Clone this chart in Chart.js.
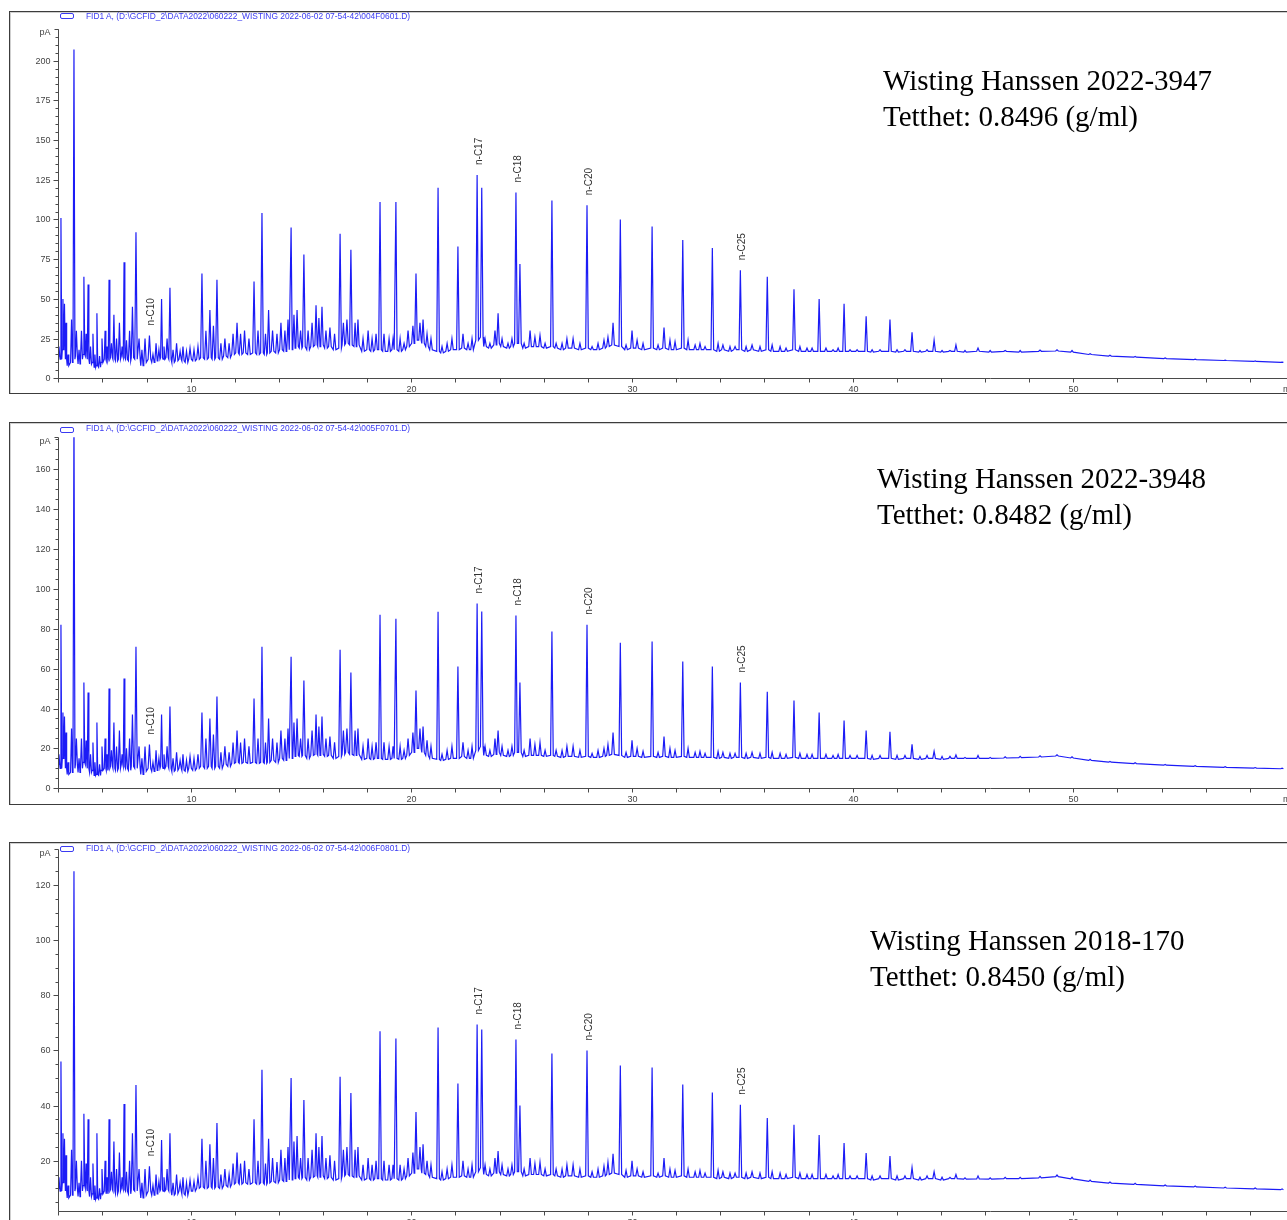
<!DOCTYPE html>
<html>
<head>
<meta charset="utf-8">
<script src="https://cdn.jsdelivr.net/npm/chart.js@4.4.1/dist/chart.umd.min.js"></script>
<style>
  html, body { margin: 0; padding: 0; background: #fff; overflow: hidden; width: 1287px; height: 1220px; }
  .frame { position: absolute; left: 9px; width: 1300px; border: 1px solid #3c3c3c; box-shadow: inset 1px 1px 0 #cfcfcf; box-sizing: border-box; }
  canvas { position: absolute; left: 0; filter: blur(0.3px); }
  .swatch { position: absolute; left: 60px; width: 12px; height: 4px; border: 1px solid #3a3af2; border-radius: 2px; filter: blur(0.3px); }
  .hdr { position: absolute; left: 86px; font: 8.4px "Liberation Sans", Arial, sans-serif; line-height: 9px; color: #3a3af2; white-space: nowrap; filter: blur(0.3px); }
  .note { position: absolute; font: 29px "Liberation Serif", "Times New Roman", serif; line-height: 36px; color: #000; white-space: nowrap; }
</style>
</head>
<body>
<div class="frame" style="top:11px;height:383px"></div>
<div class="frame" style="top:422px;height:383px"></div>
<div class="frame" style="top:842px;height:400px"></div>

<canvas id="gc1" width="1300" height="410" style="top:0"></canvas>
<canvas id="gc2" width="1300" height="410" style="top:410px"></canvas>
<canvas id="gc3" width="1300" height="400" style="top:820px"></canvas>

<div class="swatch" style="top:13px"></div>
<div class="swatch" style="top:427px"></div>
<div class="swatch" style="top:846px"></div>
<div class="hdr" id="h1" style="top:12px"></div>
<div class="hdr" id="h2" style="top:424px"></div>
<div class="hdr" id="h3" style="top:844px"></div>

<div class="note" id="n1" style="left:883px;top:62px"></div>
<div class="note" id="n2" style="left:877px;top:460px"></div>
<div class="note" id="n3" style="left:870px;top:922px"></div>

<script>
// Retention times (min) of resolved peaks and noise maxima, common to the three runs
const retentionMin = [
  4.03, 4.12, 4.21, 4.28, 4.35, 4.44, 4.60, 4.71, 4.82, 4.94,
  5.05, 5.16, 5.26, 5.35, 5.46, 5.57, 5.66, 5.75, 5.87, 5.98,
  6.12, 6.21, 6.30, 6.41, 6.52, 6.64, 6.77, 6.89, 6.98, 7.09,
  7.23, 7.36, 7.52, 7.66, 7.79, 7.93, 8.13, 8.29, 8.43, 8.56,
  8.68, 8.79, 8.93, 9.06, 9.20, 9.36, 9.52, 9.65, 9.81, 9.97,
  10.15, 10.33, 10.51, 10.69, 10.87, 11.03, 11.19, 11.37, 11.55, 11.74,
  11.92, 12.10, 12.26, 12.44, 12.64, 12.87, 13.05, 13.23, 13.39, 13.53,
  13.71, 13.91, 14.09, 14.27, 14.41, 14.55, 14.68, 14.82, 14.98, 15.13,
  15.32, 15.50, 15.68, 15.81, 15.95, 16.13, 16.31, 16.52, 16.77, 16.92,
  17.08, 17.26, 17.45, 17.58, 17.81, 18.04, 18.22, 18.40, 18.58, 18.76,
  18.99, 19.17, 19.30, 19.49, 19.67, 19.85, 20.07, 20.21, 20.39, 20.53,
  20.71, 20.89, 21.21, 21.39, 21.62, 21.84, 22.11, 22.34, 22.57, 22.75,
  22.98, 23.19, 23.34, 23.56, 23.79, 23.93, 24.11, 24.38, 24.56, 24.74,
  24.92, 25.11, 25.38, 25.60, 25.83, 26.06, 26.37, 26.56, 26.83, 27.05,
  27.33, 27.64, 27.96, 28.19, 28.46, 28.73, 28.91, 29.14, 29.47, 29.73,
  30.00, 30.23, 30.50, 30.91, 31.18, 31.45, 31.72, 31.95, 32.30, 32.54,
  32.86, 33.08, 33.31, 33.64, 33.90, 34.12, 34.44, 34.67, 34.91, 35.17,
  35.44, 35.80, 36.13, 36.35, 36.71, 36.98, 37.34, 37.61, 37.93, 38.16,
  38.48, 38.79, 39.11, 39.34, 39.61, 39.88, 40.20, 40.61, 40.88, 41.24,
  41.69, 42.01, 42.37, 42.69, 43.05, 43.37, 43.69, 44.05, 44.41, 44.68,
  45.09, 45.68, 46.23, 46.91, 47.59, 48.49, 49.26, 49.94, 50.76, 51.66, 52.80, 54.16, 55.52, 56.88, 58.24, 59.46
];

// Run 1 (2022-3947): signal at each maximum and the baseline level beside it (pA)
const run1Apex = [
  20, 101, 50, 47, 35, 15, 37, 207, 30, 18,
  30, 64, 28, 59, 20, 28, 15, 41, 14, 25,
  30, 20, 62, 22, 40, 25, 35, 20, 73, 24,
  30, 45, 92, 25, 18, 25, 27, 15, 22, 18,
  50, 20, 25, 57, 18, 22, 17, 20, 17, 19,
  18, 20, 66, 30, 43, 33, 62, 22, 25, 22,
  28, 35, 28, 30, 25, 61, 30, 104, 28, 43,
  30, 28, 35, 30, 37, 95, 40, 43, 30, 78,
  30, 35, 46, 38, 45, 30, 32, 28, 91, 35,
  37, 81, 35, 37, 25, 30, 25, 28, 111, 28,
  25, 25, 111, 25, 22, 30, 33, 66, 35, 37,
  28, 25, 120, 20, 22, 25, 83, 28, 22, 25,
  128, 120, 25, 22, 30, 41, 25, 22, 25, 117,
  72, 22, 30, 26, 27, 22, 112, 22, 22, 25,
  25, 22, 109, 20, 22, 24, 26, 35, 100, 21,
  30, 24, 22, 95.5, 21, 32, 24, 23, 87, 24,
  21, 22, 20, 82, 22, 21, 20, 20, 68, 20,
  21, 20, 64, 21, 20, 19, 56, 20, 19, 19,
  50, 19, 18, 19, 47, 18, 18, 39, 18, 18,
  37, 18, 18, 29, 17.5, 18, 24, 17.5, 17.5, 21,
  17.5, 19, 17.5, 17.5, 17.5, 17.8, 18, 17.5, 15.5, 14.5, 13.8, 12.8, 12, 11.4, 10.9, 10.2
];
const run1Base = [
  14, 12, 18, 20, 12, 8, 10, 12, 14, 9,
  12, 15, 14, 12, 9, 10, 7, 8, 7, 10,
  12, 11, 12, 13, 12, 11, 12, 14, 13, 12,
  11, 13, 12, 12, 8, 10, 12, 10, 11, 12,
  13, 12, 13, 12, 10, 11, 12, 11, 10, 12,
  11, 12, 13, 12, 13, 12, 13, 12, 14, 13,
  15, 16, 15, 16, 15, 16, 15, 16, 15, 16,
  17, 16, 18, 17, 18, 18, 19, 20, 19, 20,
  18, 20, 21, 20, 21, 19, 20, 18, 19, 21,
  22, 21, 20, 21, 17, 18, 17, 18, 18, 17,
  17, 18, 18, 17, 18, 20, 22, 24, 24, 22,
  20, 18, 17, 16, 17, 18, 18, 19, 18, 18,
  24, 26, 20, 19, 21, 22, 20, 19, 20, 22,
  22, 19, 20, 20, 20, 19, 20, 19, 18, 19,
  19, 18, 19, 18, 18, 19, 20, 21, 20, 18,
  19, 19, 18, 19, 18, 19, 18, 18, 19, 18,
  18, 18, 18, 18, 17, 18, 17, 18, 18, 17,
  18, 17, 18, 17, 17, 17, 18, 17, 17, 17,
  17, 17, 17, 17, 17, 17, 17, 17, 16.5, 17,
  17, 16.5, 17, 17, 16.5, 17, 17, 16.5, 17, 17,
  16.5, 17, 16.5, 17, 16.5, 17, 17.2, 16.5, 15, 14, 13.3, 12.4, 11.8, 11.2, 10.6, 10
];

// Run 2 (2022-3948)
const run2Apex = [
  17, 82, 38, 36, 28, 13, 30, 190, 25, 15,
  25, 53, 24, 48, 17, 23, 13, 33, 12, 21,
  25, 17, 50, 19, 33, 21, 29, 17, 55, 20,
  25, 37, 71, 21, 15, 21, 22, 13, 19, 15,
  37, 17, 21, 41, 15, 18, 14, 17, 14, 16,
  15, 17, 38, 25, 35, 27, 46, 18, 21, 18,
  23, 29, 23, 25, 21, 45, 25, 71, 23, 35,
  25, 23, 29, 25, 30, 66, 33, 35, 25, 54,
  25, 29, 37, 31, 36, 25, 26, 23, 69.5, 29,
  30, 58, 29, 30, 21, 25, 21, 23, 87, 23,
  21, 21, 85, 21, 19, 25, 28, 49, 30, 31,
  24, 21, 88.5, 17, 19, 21, 61, 23, 19, 21,
  92.6, 88.6, 21, 19, 25, 29, 21, 19, 21, 86.6,
  53, 19, 25, 22, 23, 19, 78.6, 19, 19, 21,
  21, 19, 82, 17.5, 19, 20, 22, 28, 73, 18,
  24, 20, 18.5, 73.6, 18, 26, 20, 19, 63.5, 20,
  18, 18.5, 17.5, 61, 18.5, 18, 17.5, 17.5, 53, 17.5,
  18, 17.5, 48.4, 18, 17.5, 17, 44, 17.5, 17, 17,
  38, 17, 16.5, 17, 34, 16.5, 16.5, 29, 16.5, 16.5,
  28.3, 16.5, 16.5, 22, 16, 16.5, 18.6, 16, 16, 16.7,
  15.5, 16.5, 15.5, 15.8, 16, 16.3, 16.8, 15.8, 14.5, 13.5, 12.8, 12, 11.3, 10.8, 10.4, 10.1
];
const run2Base = [
  12, 10, 15, 16, 10, 7, 8, 10, 12, 8,
  10, 13, 12, 10, 8, 9, 6.5, 7, 6.5, 9,
  10, 9, 10, 11, 10, 9, 10, 12, 11, 10,
  9, 11, 10, 10, 7, 8.5, 10, 8.5, 9, 10,
  11, 10, 11, 10, 8.5, 9, 10, 9, 8.5, 10,
  9, 10, 11, 10, 11, 10, 11, 10, 12, 11,
  12.5, 13, 12.5, 13, 12.5, 13, 12.5, 13, 12.5, 13,
  14, 13, 15, 14, 15, 15, 16, 16.5, 16, 16.5,
  15, 16.5, 17, 16.5, 17, 16, 16.5, 15, 16, 17,
  18, 17, 16.5, 17, 14.5, 15, 14.5, 15, 15, 14.5,
  14.5, 15, 15, 14.5, 15, 16.5, 18, 20, 20, 18,
  16.5, 15, 14.5, 14, 14.5, 15, 15, 16, 15, 15,
  19, 21, 16.5, 16, 17, 18, 16.5, 16, 16.5, 18,
  18, 16, 16.5, 16.5, 16.5, 16, 16.5, 16, 15.5, 16,
  16, 15.5, 16, 15.5, 15.5, 16, 16.5, 17, 16.5, 15.5,
  16, 16, 15.5, 16, 15.5, 16, 15.5, 15.5, 16, 15.5,
  15.5, 15.5, 15.5, 15.5, 15, 15.5, 15, 15.5, 15.5, 15,
  15.5, 15, 15.5, 15, 15, 15, 15.5, 15, 15, 15,
  15, 15, 15, 15, 15, 15, 15, 15, 14.5, 15,
  15, 14.5, 15, 15, 14.5, 15, 15, 14.5, 15, 15,
  15, 15, 15, 15.2, 15.4, 15.7, 16.2, 15.2, 14, 13.1, 12.4, 11.6, 11, 10.5, 10.1, 9.8
];

// Run 3 (2018-170)
const run3Apex = [
  14, 56, 30, 28, 22, 11, 24, 125, 20, 12,
  20, 37, 19, 35, 14, 19, 11, 30, 10, 17,
  20, 14, 35, 16, 27, 17, 23, 14, 40.6, 16,
  20, 30, 47.5, 17, 12, 17, 18, 11, 15, 12.5,
  27.5, 14, 17, 30, 12, 15, 12, 14, 12, 13,
  12.5, 14, 28, 20, 26, 21, 33.7, 15, 17, 15,
  19, 23, 19, 20, 17, 35, 20, 53, 19, 28,
  21, 19.5, 24, 21, 25, 50, 27, 29, 21, 42,
  21, 24, 30, 25, 29, 21, 22, 20, 50.5, 24,
  25, 44.6, 24, 25, 18.5, 21, 18.5, 20, 67, 20,
  18.5, 18.5, 64.3, 18.5, 17, 21, 23, 37.7, 25, 26,
  20, 18.5, 68.3, 16, 17, 18.5, 48, 20, 17, 18.5,
  69.4, 67.6, 18.5, 17, 21, 23.5, 18.5, 17, 18.5, 64,
  40, 17, 21, 19, 19.5, 17, 58.9, 17, 17, 18.5,
  18.5, 17, 60, 16, 17, 18, 19.5, 22.5, 54.5, 16.5,
  20, 17, 16, 53.8, 15.5, 21, 17, 16.5, 47.6, 17,
  16, 16.5, 15.5, 44.7, 16.5, 16, 15.5, 15.5, 40.3, 15.5,
  16, 15.5, 35.5, 16, 15.5, 15, 33, 15.5, 15, 15,
  29.3, 15, 14.5, 15, 26.4, 14.5, 14.5, 22.8, 14.5, 14.5,
  21.7, 14.5, 14.5, 17.5, 14, 14.5, 16, 14, 14, 15,
  13.8, 14.5, 13.8, 14, 14, 14.3, 14.8, 14, 13, 12.3, 11.8, 11.2, 10.8, 10.4, 10.1, 9.8
];
const run3Base = [
  10, 9, 12, 13, 9, 6.5, 7.5, 9, 10, 7,
  9, 11, 10, 9, 7, 8, 6, 6.5, 6, 8,
  9, 8, 9, 9.5, 9, 8, 9, 10, 9.5, 9,
  8, 9.5, 9, 9, 6.5, 7.5, 9, 7.5, 8, 9,
  9.5, 9, 9.5, 9, 7.5, 8, 9, 8, 7.5, 9,
  9, 10, 10.5, 10, 10.5, 10, 10.5, 10, 11, 10.5,
  11.5, 12, 11.5, 12, 11.5, 12, 11.5, 12, 11.5, 12,
  12.5, 12, 13, 12.5, 13, 13, 13.5, 14, 13.5, 14,
  13, 14, 14.5, 14, 14.5, 13.5, 14, 13, 13.5, 14.5,
  15, 14.5, 14, 14.5, 13, 13.5, 13, 13.5, 13.5, 13,
  13, 13.5, 13.5, 13, 13.5, 14.5, 15.5, 17, 17, 15.5,
  15, 14, 13.5, 13, 13.5, 14, 14, 14.5, 14, 14,
  16, 17.5, 15, 14.5, 15.5, 16, 15, 14.5, 15, 16,
  16, 14.5, 15, 15, 15, 14.5, 15, 14.5, 14, 14.5,
  14.5, 14, 14.5, 14, 14, 14.5, 15, 15.5, 15, 14,
  14.5, 14.5, 14, 14.5, 14, 14.5, 14, 14, 14.5, 14,
  14, 14, 14, 14, 13.5, 14, 13.5, 14, 14, 13.5,
  14, 13.5, 14, 13.5, 13.5, 13.5, 14, 13.5, 13.5, 13.5,
  13.5, 13.5, 13.5, 13.5, 13.5, 13.5, 13.5, 13.5, 13, 13.5,
  13.5, 13, 13.5, 13.5, 13, 13.5, 13.5, 13, 13.5, 13.5,
  13.3, 13.4, 13.3, 13.5, 13.5, 13.8, 14.2, 13.4, 12.5, 11.9, 11.4, 10.9, 10.5, 10.1, 9.8, 9.5
];

// n-alkane markers
const alkaneNames = ['n-C10', 'n-C17', 'n-C18', 'n-C20', 'n-C25'];
const alkaneTimes = [8.13, 22.98, 24.74, 27.96, 34.91];

// Per-run text
const sampleNames = ['Wisting Hanssen 2022-3947', 'Wisting Hanssen 2022-3948', 'Wisting Hanssen 2018-170'];
const densities = ['Tetthet: 0.8496 (g/ml)', 'Tetthet: 0.8482 (g/ml)', 'Tetthet: 0.8450 (g/ml)'];
const dataFiles = [
  'FID1 A, (D:\\GCFID_2\\DATA2022\\060222_WISTING 2022-06-02 07-54-42\\004F0601.D)',
  'FID1 A, (D:\\GCFID_2\\DATA2022\\060222_WISTING 2022-06-02 07-54-42\\005F0701.D)',
  'FID1 A, (D:\\GCFID_2\\DATA2022\\060222_WISTING 2022-06-02 07-54-42\\006F0801.D)'
];

// Peak half-width in minutes (narrowed where maxima sit close together)
const HALF_WIDTH = 0.06;

function buildTrace(times, apex, base) {
  const pts = [];
  for (let i = 0; i < times.length; i++) {
    const gapL = i > 0 ? times[i] - times[i - 1] : 1;
    const gapR = i < times.length - 1 ? times[i + 1] - times[i] : 1;
    const w = Math.min(HALF_WIDTH, gapL / 2.5, gapR / 2.5);
    pts.push({ x: times[i] - w, y: base[i] });
    pts.push({ x: times[i], y: apex[i] });
    pts.push({ x: times[i] + w, y: base[i] });
  }
  return pts;
}

const TICK_FONT = '9px "Liberation Sans", Arial, sans-serif';

// Draws the instrument-style axes: minor/major ticks, labels, pA and min
const gcAxes = {
  id: 'gcAxes',
  afterDraw(chart, _args, opts) {
    const { ctx, chartArea: a } = chart;
    const xs = chart.scales.x, ys = chart.scales.y;
    ctx.save();
    ctx.strokeStyle = '#4a4a4a';
    ctx.fillStyle = '#454545';
    ctx.lineWidth = 1;
    ctx.font = TICK_FONT;
    const ax = Math.round(a.left) + 0.5;
    const ay = Math.round(a.bottom) + 0.5;
    const at = Math.round(a.top) + 0.5;
    ctx.beginPath();
    ctx.moveTo(ax, at); ctx.lineTo(ax, ay);
    ctx.lineTo(a.right + 20, ay);
    ctx.moveTo(ax - 4, at); ctx.lineTo(ax, at);
    ctx.stroke();

    ctx.textAlign = 'right';
    ctx.textBaseline = 'middle';
    const start = Math.ceil(ys.min / opts.minor) * opts.minor;
    for (let v = start; v <= ys.max; v += opts.minor) {
      const y = Math.round(ys.getPixelForValue(v)) + 0.5;
      const major = v % opts.major === 0;
      ctx.beginPath();
      ctx.moveTo(ax - (major ? 5 : 3), y); ctx.lineTo(ax, y);
      ctx.stroke();
      if (major) ctx.fillText(String(v), ax - 8, y);
    }
    ctx.fillText('pA', ax - 8, a.top + 4);

    ctx.textAlign = 'center';
    for (let t = Math.ceil(xs.min); t <= xs.max; t += 2) {
      const x = Math.round(xs.getPixelForValue(t)) + 0.5;
      ctx.beginPath();
      ctx.moveTo(x, ay); ctx.lineTo(x, ay + 4);
      ctx.stroke();
      if (t % 10 === 0) ctx.fillText(String(t), x, ay + 11);
    }
    ctx.textAlign = 'left';
    ctx.fillText('min', a.right - 11, ay + 11);
    ctx.restore();
  }
};

// Rotated n-alkane labels above their peaks
const peakTags = {
  id: 'peakTags',
  afterDatasetsDraw(chart, _args, opts) {
    const { ctx } = chart;
    const xs = chart.scales.x, ys = chart.scales.y;
    ctx.save();
    ctx.font = '10px "Liberation Sans", Arial, sans-serif';
    ctx.fillStyle = '#333';
    ctx.textAlign = 'left';
    ctx.textBaseline = 'middle';
    opts.tags.forEach(tag => {
      const x = xs.getPixelForValue(tag.t) + 2;
      const y = ys.getPixelForValue(tag.v) - 10;
      ctx.save();
      ctx.translate(x, y);
      ctx.rotate(-Math.PI / 2);
      ctx.fillText(tag.name, 0, 0);
      ctx.restore();
    });
    ctx.restore();
  }
};

function tagsFor(apex) {
  return alkaneNames.map((name, k) => {
    const i = retentionMin.indexOf(alkaneTimes[k]);
    return { name, t: alkaneTimes[k], v: apex[i] };
  });
}

function makePanel(id, apex, base, y, pad) {
  return new Chart(document.getElementById(id), {
    type: 'line',
    data: {
      datasets: [{
        data: buildTrace(retentionMin, apex, base),
        borderColor: '#1c1cf6',
        borderWidth: 1.2,
        pointRadius: 0,
        tension: 0,
        fill: false
      }]
    },
    options: {
      responsive: false,
      animation: false,
      devicePixelRatio: 1,
      parsing: false,
      layout: { padding: pad },
      plugins: {
        legend: { display: false },
        tooltip: { enabled: false },
        gcAxes: { major: y.major, minor: y.minor },
        peakTags: { tags: tagsFor(apex) }
      },
      scales: {
        x: { type: 'linear', min: 4, max: 60, display: false },
        y: { type: 'linear', min: y.min, max: y.max, display: false }
      }
    },
    plugins: [gcAxes, peakTags]
  });
}

makePanel('gc1', run1Apex, run1Base, { min: 0, max: 220, major: 25, minor: 5 },
  { left: 58.3, right: 6, top: 28.9, bottom: 31.7 });
makePanel('gc2', run2Apex, run2Base, { min: 0, max: 176, major: 20, minor: 5 },
  { left: 58.3, right: 6, top: 27.2, bottom: 31.7 });
makePanel('gc3', run3Apex, run3Base, { min: 1.76, max: 133, major: 20, minor: 5 },
  { left: 58.3, right: 6, top: 29.2, bottom: 9 });

['h1', 'h2', 'h3'].forEach((id, k) => { document.getElementById(id).textContent = dataFiles[k]; });
['n1', 'n2', 'n3'].forEach((id, k) => {
  const el = document.getElementById(id);
  el.appendChild(document.createTextNode(sampleNames[k]));
  el.appendChild(document.createElement('br'));
  el.appendChild(document.createTextNode(densities[k]));
});
</script>
</body>
</html>
